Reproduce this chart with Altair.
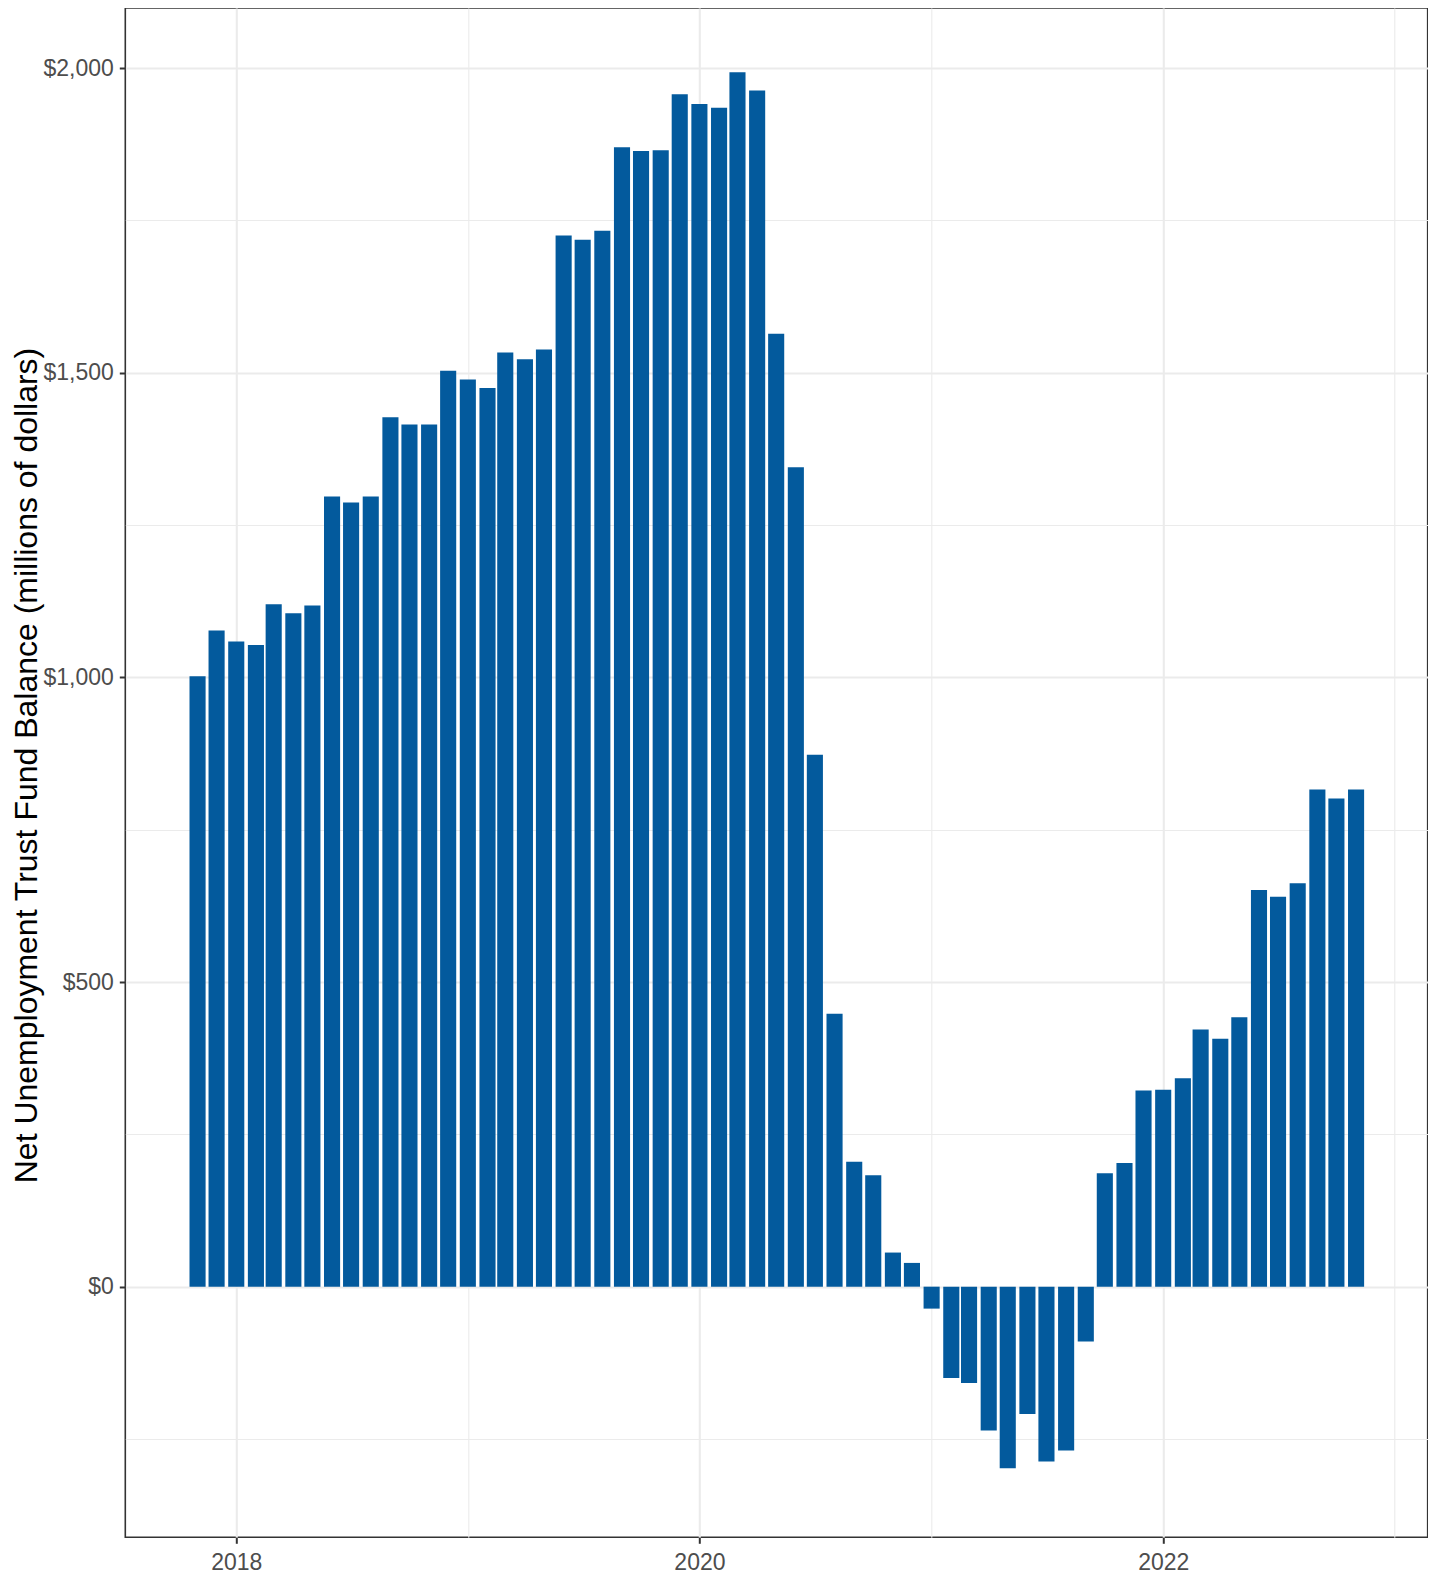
import altair as alt
import pandas as pd

months = [
    "2017-11-01", "2017-12-01",
    "2018-01-01", "2018-02-01", "2018-03-01", "2018-04-01", "2018-05-01", "2018-06-01",
    "2018-07-01", "2018-08-01", "2018-09-01", "2018-10-01", "2018-11-01", "2018-12-01",
    "2019-01-01", "2019-02-01", "2019-03-01", "2019-04-01", "2019-05-01", "2019-06-01",
    "2019-07-01", "2019-08-01", "2019-09-01", "2019-10-01", "2019-11-01", "2019-12-01",
    "2020-01-01", "2020-02-01", "2020-03-01", "2020-04-01", "2020-05-01", "2020-06-01",
    "2020-07-01", "2020-08-01", "2020-09-01", "2020-10-01", "2020-11-01", "2020-12-01",
    "2021-01-01", "2021-02-01", "2021-03-01", "2021-04-01", "2021-05-01", "2021-06-01",
    "2021-07-01", "2021-08-01", "2021-09-01", "2021-10-01", "2021-11-01", "2021-12-01",
    "2022-01-01", "2022-02-01", "2022-03-01", "2022-04-01", "2022-05-01", "2022-06-01",
    "2022-07-01", "2022-08-01", "2022-09-01", "2022-10-01", "2022-11-01",
]

balance = [
    1002, 1077,
    1059, 1053, 1120, 1105, 1118, 1297,
    1287, 1297, 1427, 1415, 1415, 1503,
    1489, 1475, 1533, 1522, 1538, 1725,
    1718, 1733, 1870, 1864, 1865, 1957,
    1941, 1935, 1993, 1963, 1564, 1345,
    873, 448, 205, 183, 56, 39,
    -36, -150, -158, -236, -298, -209,
    -287, -269, -90, 186, 203, 322,
    323, 342, 422, 407, 442, 651,
    640, 662, 816, 801, 816,
]

y_ticks = [-250, 0, 250, 500, 750, 1000, 1250, 1500, 1750, 2000]
x_years = [2018, 2019, 2020, 2021, 2022, 2023]

df = pd.DataFrame({"month": months, "balance": balance})

FONT_TICK = "Liberation Sans Narrow, Arial Narrow, Liberation Sans, Arial"
FONT_TITLE = "Liberation Sans, Arial"
TICK_SIZE = 23

x_axis = alt.Axis(
    values=[alt.DateTime(year=y, month=1, date=1, utc=True) for y in x_years],
    labelExpr="utcyear(datum.value) % 2 === 0 ? utcFormat(datum.value, '%Y') : ''",
    title=None,
    domain=False,
    grid=True,
    gridColor="#EBEBEB",
    gridWidth={"condition": {"test": "utcyear(datum.value) % 2 === 0", "value": 2.1}, "value": 1.1},
    ticks=True,
    tickSize=6,
    tickWidth=2,
    tickColor="#333333",
    tickOpacity={"condition": {"test": "utcyear(datum.value) % 2 === 0", "value": 1}, "value": 0},
    labelFont=FONT_TICK,
    labelFontSize=TICK_SIZE,
    labelColor="#4D4D4D",
    labelPadding=8,
    labelFlush=False,
    labelOverlap=False,
)

y_axis = alt.Axis(
    values=y_ticks,
    labelExpr="datum.value % 500 === 0 ? '$' + format(datum.value, ',') : ''",
    title="Net Unemployment Trust Fund Balance (millions of dollars)",
    titleFont=FONT_TITLE,
    titleFontSize=32,
    titleFontWeight="normal",
    titleColor="#000000",
    titleAngle=270,
    titleAlign="center",
    titleBaseline="alphabetic",
    titleX=-88.6,
    titleY=757,
    domain=False,
    grid=True,
    gridColor="#EBEBEB",
    gridWidth={"condition": {"test": "datum.value % 500 === 0", "value": 2.1}, "value": 1.1},
    ticks=True,
    tickSize=6,
    tickWidth=2,
    tickColor="#333333",
    tickOpacity={"condition": {"test": "datum.value % 500 === 0", "value": 1}, "value": 0},
    labelFont=FONT_TICK,
    labelFontSize=TICK_SIZE,
    labelColor="#4D4D4D",
    labelPadding=6,
    labelBaseline="middle",
    labelFlush=False,
    labelOverlap=False,
)

chart = (
    alt.Chart(df)
    .mark_bar(width=16.1, color="#035A9D")
    .encode(
        x=alt.X(
            "month:T",
            scale=alt.Scale(
                type="utc",
                domain=[
                    alt.DateTime(year=2017, month=7, date=18, utc=True),
                    alt.DateTime(year=2023, month=2, date=14, utc=True),
                ],
                nice=False,
            ),
            axis=x_axis,
        ),
        y=alt.Y(
            "balance:Q",
            scale=alt.Scale(domain=[-411.3, 2098.5], nice=False, zero=False),
            axis=y_axis,
        ),
    )
    .properties(
        width=1302.4,
        height=1529.3,
        background="white",
        autosize=alt.AutoSizeParams(type="none"),
        padding={"left": 117.3, "top": 0, "right": 0, "bottom": 60},
    )
    .configure_view(stroke="#333333", strokeWidth=1.6)
)

chart.save("out.html", embed_options={"renderer": "svg", "actions": False})
